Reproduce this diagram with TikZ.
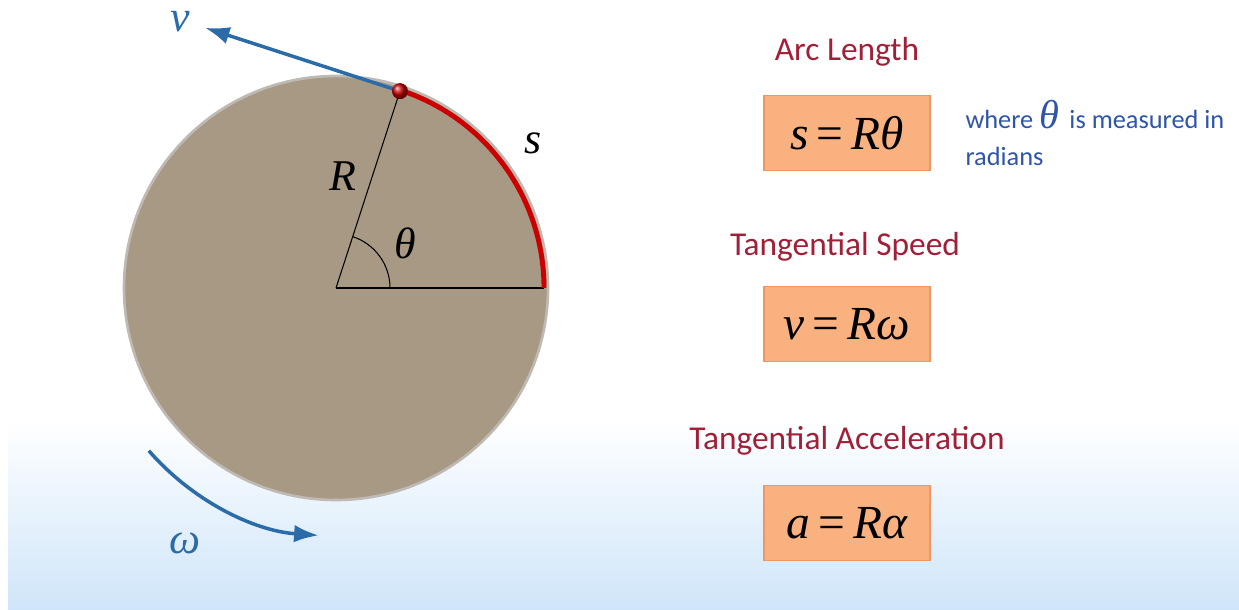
\documentclass[tikz,border=0pt]{standalone}
\usepackage{fontspec}
\setmainfont{Carlito}
\newfontfamily\tnrfont{Liberation Serif}
\newcommand{\mv}[1]{{\tnrfont\itshape #1}}
\newcommand{\eqs}{\,{\tnrfont=}\,}
\usepackage{xcolor}
\usetikzlibrary{arrows.meta,positioning}

\definecolor{diskfill}{RGB}{168,153,133}
\definecolor{diskrim}{RGB}{190,185,178}
\definecolor{arcred}{RGB}{204,0,0}
\definecolor{arrblue}{RGB}{43,108,168}
\definecolor{titlered}{RGB}{160,32,56}
\definecolor{noteblue}{RGB}{47,85,170}
\definecolor{boxfill}{RGB}{250,177,128}
\definecolor{boxline}{RGB}{238,150,100}
\definecolor{skyb}{RGB}{207,229,249}

\begin{document}
\begin{tikzpicture}[
  x=0.02cm, y=0.02cm,
  title/.style={text=titlered, font=\fontsize{19}{23}\selectfont},
  eqbox/.style={draw=boxline, line width=0.8pt, fill=boxfill, minimum width=3.32cm, minimum height=1.5cm, font=\fontsize{27}{30}\selectfont},
  note/.style={text=noteblue, align=left, font=\fontsize{15}{21}\selectfont, inner sep=2pt},
  lbl/.style={font=\fontsize{25}{25}\selectfont},
  blarr/.style={-{Latex[length=14pt,width=10pt]}, arrblue, line width=2pt}
]
\useasboundingbox (0,0) rectangle (1239,609);
% background
\fill[white] (0,0) rectangle (1239,609);
\shade[top color=white, bottom color=skyb] (8,0) rectangle (1239,190);

% disk
\coordinate (O) at (336,321);
\draw[diskrim, line width=1.5pt, fill=diskfill] (O) circle (212);
\coordinate (A) at ([shift={(0:208)}]O);
\coordinate (P) at ([shift={(72:207)}]O);
\coordinate (V) at ([shift={(162:205)}]P);
\draw[line width=0.6pt] (O) -- (A);
\draw[line width=0.6pt] (O) -- (P);
\draw[line width=0.6pt] ([shift={(0:54)}]O) arc (0:72:54);
\draw[arcred, line width=2.8pt] (A) arc (0:72:208);
\draw[blarr] (P) -- (V);
\shade[ball color=arcred] (P) circle (8);

% labels on the disk
\node[lbl, text=arrblue, inner sep=1pt] (vlab) at (180,587) {\mv{v}};
\node[lbl] (slab) at (533,466) {\mv{s}};
\node[lbl] (Rlab) at (343,433) {\mv{R}};
\node[lbl] (thlab) at (405,366) {\mv{θ}};

% rotation
\coordinate (W1) at ([shift={(221:248)}]O);
\draw[blarr] (W1) arc (221:266:248) coordinate (W2);
\node[lbl, text=arrblue] (wlab) at (185,66) {\mv{ω}};

% formulas
\node[title] (t1) at (847,557) {Arc Length};
\node[eqbox] (eq1) at (847,476) {\mv{s}\eqs\mv{Rθ}};
\node[note, right=0.62cm of eq1] (n1) {where {\fontsize{23}{23}\selectfont\mv{θ}}\, is measured in\\radians};
\node[title] (t2) at (845,362) {Tangential Speed};
\node[eqbox] (eq2) at (847,285) {\mv{v}\eqs\mv{Rω}};
\node[title] (t3) at (847,168) {Tangential Acceleration};
\node[eqbox] (eq3) at (847,86) {\mv{a}\eqs\mv{Rα}};
\end{tikzpicture}
\end{document}
